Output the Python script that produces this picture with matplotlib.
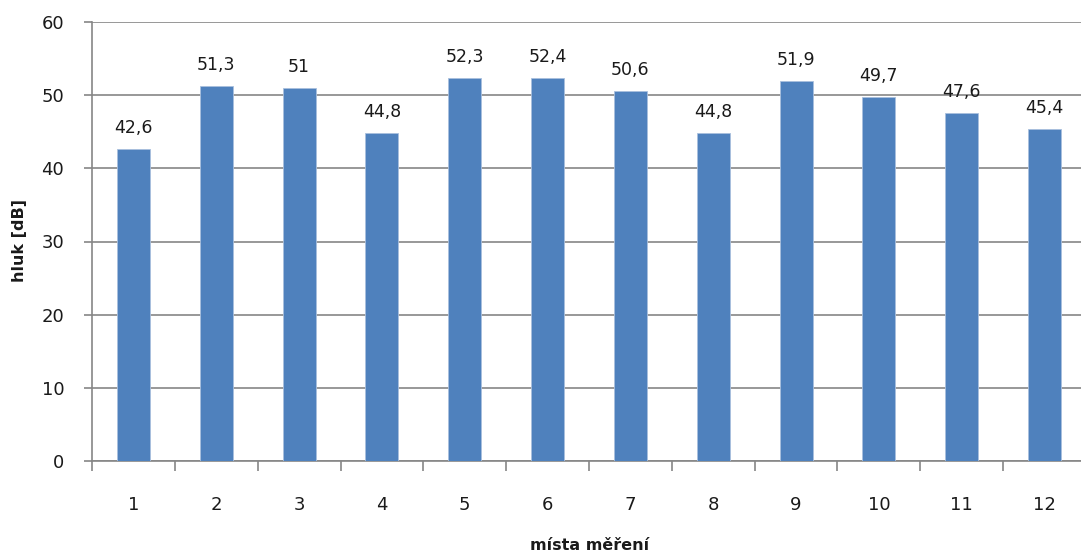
import matplotlib
matplotlib.use("Agg")
import matplotlib.pyplot as plt

sites = ["1", "2", "3", "4", "5", "6", "7", "8", "9", "10", "11", "12"]
noise_db = [42.6, 51.3, 51.0, 44.8, 52.3, 52.4, 50.6, 44.8, 51.9, 49.7, 47.6, 45.4]
value_labels = ["42,6", "51,3", "51", "44,8", "52,3", "52,4", "50,6", "44,8", "51,9", "49,7", "47,6", "45,4"]
y_ticks = [0, 10, 20, 30, 40, 50, 60]

W, H, DPI = 1081, 558, 100
fig = plt.figure(figsize=(W / DPI, H / DPI), dpi=DPI)
left, right, top, bottom = 92, 1086, 22, 461
ax = fig.add_axes([left / W, 1 - bottom / H, (right - left) / W, (bottom - top) / H])

grid_c = "#868686"
text_c = "#1a1a1a"
x = list(range(len(sites)))
bars = ax.bar(x, noise_db, width=0.40, color="#4F81BD", edgecolor="#A9C0DE",
              linewidth=0.6, zorder=3)

for xi, v, lab in zip(x, noise_db, value_labels):
    ax.annotate(lab, (xi, v), xytext=(0, 12), textcoords="offset pixels",
                ha="center", va="bottom", fontsize=12.5, color=text_c)

ax.set_xlim(-0.5, len(sites) - 0.5)
ax.set_ylim(0, 60)
ax.set_yticks(y_ticks)
ax.set_yticklabels([str(t) for t in y_ticks], fontsize=13, color=text_c)
ax.set_xticks(x)
ax.set_xticklabels(sites, fontsize=13, color=text_c)
ax.set_xticks([i - 0.5 for i in range(len(sites) + 1)], minor=True)

ax.yaxis.grid(True, color=grid_c, linewidth=1.2, zorder=0)
ax.set_axisbelow(True)
for s in ["top", "right"]:
    ax.spines[s].set_visible(False)
for s in ["left", "bottom"]:
    ax.spines[s].set_color(grid_c)
    ax.spines[s].set_linewidth(1.2)

ax.tick_params(axis="y", length=6, width=1.2, color=grid_c, pad=14)
ax.tick_params(axis="x", which="major", length=0, pad=25)
ax.tick_params(axis="x", which="minor", length=7, width=1.2, color=grid_c)

fig.text(20 / W, 1 - 241 / H, "hluk [dB]", rotation=90, ha="center", va="center",
         fontsize=11.5, fontweight="bold", color=text_c)
fig.text(590 / W, 1 - 546 / H, "místa měření", ha="center", va="center",
         fontsize=11.5, fontweight="bold", color=text_c)

fig.savefig("out.png", dpi=DPI)
